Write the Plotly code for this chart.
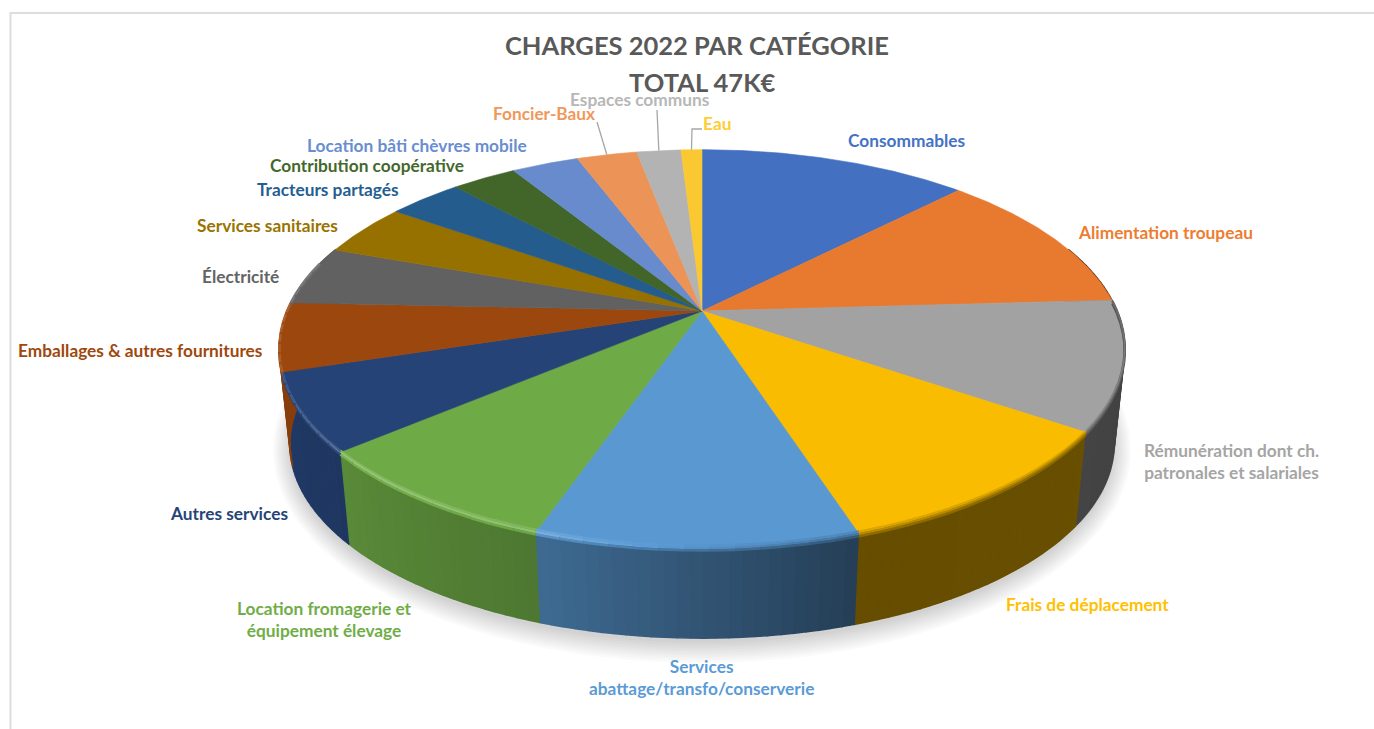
import math
import numpy as np
import plotly.graph_objects as go

# Charges 2022 in k€, clockwise from twelve o'clock
categories = [
    "Consommables", "Alimentation troupeau", "Rémunération dont ch.<br>patronales et salariales",
    "Frais de déplacement", "Services<br>abattage/transfo/conserverie",
    "Location fromagerie et<br>équipement élevage", "Autres services",
    "Emballages & autres fournitures", "Électricité", "Services sanitaires",
    "Tracteurs partagés", "Contribution coopérative", "Location bâti chèvres mobile",
    "Foncier-Baux", "Espaces communs", "Eau",
]
values = [5.8, 5.5, 4.9, 4.9, 4.85, 4.0, 2.95, 2.6, 2.25, 2.0, 1.6, 1.4, 1.45, 1.3, 0.95, 0.45]

colors = [
    "#4472C4", "#ED7D31", "#A5A5A5", "#FFC000", "#5B9BD5", "#70AD47", "#264478", "#9E480E",
    "#636363", "#997300", "#255E91", "#43682B", "#698ED0", "#F1975A", "#B7B7B7", "#FFCD33",
]

# Text centres on the pixel-scaled canvas
label_centres = [
    (906, 140.5), (1165, 232.5), (1231, 461), (1087, 604.5), (701, 677), (324, 619),
    (229, 513.5), (140, 350.5), (240, 276.5), (267, 225.5), (328, 189.5), (367, 165.5),
    (417, 145.5), (544, 113.5), (640, 99.5), (717, 123.5),
]

# Perspective disc: screen position of a rim point at a given clockwise angle
CX, TOP_Y, BOTTOM_Y = 702.0, 311.0, 407.0
RX, RY, TILT = 415.0, 192.0, 0.19
BOTTOM_SCALE = 0.975


def project(theta_deg, y0=TOP_Y, scale=1.0):
    t = np.radians(theta_deg)
    d = 1 + TILT * np.cos(t)
    return CX + scale * RX * np.sin(t) / d, y0 - scale * RY * np.cos(t) / d


def rgb(hex_color):
    return tuple(int(hex_color[i:i + 2], 16) for i in (1, 3, 5))


def shade(hex_color, f):
    r, g, b = rgb(hex_color)
    if f <= 1:
        return f"rgb({r * f:.0f},{g * f:.0f},{b * f:.0f})"
    m = min(f - 1, 1)
    return f"rgb({r + (255 - r) * m:.0f},{g + (255 - g) * m:.0f},{b + (255 - b) * m:.0f})"


# Light falls from the lower left: wall and bevel brightness by angle
WALL_ANGLES = [70, 125, 162, 199, 230, 252, 290]
WALL_SHADE = [0.40, 0.41, 0.40, 0.69, 0.80, 0.85, 0.88]
BEVEL_ANGLES = [70, 100, 125, 160, 182, 200, 225, 250, 290]
BEVEL_SHADE = [0.62, 0.60, 0.70, 0.72, 0.95, 1.22, 1.28, 1.15, 1.15]

total = sum(values)
edges = np.concatenate([[0], np.cumsum(values) / total * 360])

fig = go.Figure()


def add_poly(xs, ys, fill, line=None, width=0.6, name=None):
    fig.add_trace(go.Scatter(
        x=list(xs), y=list(ys), mode="lines", fill="toself", fillcolor=fill,
        line=dict(color=line or fill, width=width), hoverinfo="skip" if name is None else "text",
        text=name, showlegend=False,
    ))


# Soft drop shadow under the disc
ring = np.linspace(0, 360, 181)
for i in range(9):
    sx, sy = project(ring, BOTTOM_Y + 5 - i * 0.4, BOTTOM_SCALE + 0.005 * i)
    sy = sy + (np.cos(np.radians(ring)) < 0) * (-np.cos(np.radians(ring))) * i * 1.7
    add_poly(sx, sy, "rgba(0,0,0,0.018)", line="rgba(0,0,0,0)", width=0)

# Outer wall, split into thin facets for the gradient; the stroke hides facet seams
for i, color in enumerate(colors):
    a0, a1 = max(edges[i], 70), min(edges[i + 1], 290)
    if a1 <= a0:
        continue
    steps = max(1, math.ceil((a1 - a0) / 1.5))
    grid = np.linspace(a0, a1, steps + 1)
    for t0, t1 in zip(grid[:-1], grid[1:]):
        xt, yt = project(np.array([t0, t1]))
        xb, yb = project(np.array([t1, t0]), BOTTOM_Y, BOTTOM_SCALE)
        fill = shade(color, float(np.interp((t0 + t1) / 2, WALL_ANGLES, WALL_SHADE)))
        add_poly(np.r_[xt, xb], np.r_[yt, yb], fill, width=1.6)

# Top face wedges
for i, (name, color) in enumerate(zip(categories, colors)):
    arc = np.linspace(edges[i], edges[i + 1], max(3, int(edges[i + 1] - edges[i]) * 2))
    ax, ay = project(arc)
    add_poly(np.r_[CX, ax, CX], np.r_[TOP_Y, ay, TOP_Y], shade(color, 0.98),
             name=f"{name.replace('<br>', ' ')}: {values[i]} k€")

# Rounded bevel straddling the rim: wall side, crest, then fading into the top face
for i, color in enumerate(colors):
    a0, a1 = max(edges[i], 87), min(edges[i + 1], 285)
    if a1 <= a0:
        continue
    steps = max(1, math.ceil((a1 - a0) / 3))
    grid = np.linspace(a0, a1, steps + 1)
    for t0, t1 in zip(grid[:-1], grid[1:]):
        mid = (t0 + t1) / 2
        f = float(np.interp(mid, BEVEL_ANGLES, BEVEL_SHADE))
        wall = float(np.interp(mid, WALL_ANGLES, WALL_SHADE))
        xr, yr = project(np.array([t0, t1]))
        lift = max(0.0, -math.cos(math.radians(mid)))
        bands = (
            (2.5, 2.5, (f + wall) / 2),
            (0.0, 2.5, f),
            (-2.5 * lift, 2.0 * lift + 0.3, (f + 1) / 2),
        )
        for offset, width, level in bands:
            fig.add_trace(go.Scatter(
                x=xr, y=yr + offset, mode="lines", hoverinfo="skip", showlegend=False,
                line=dict(color=shade(color, level), width=width),
            ))

annotations = [
    dict(x=697, y=45, text="CHARGES 2022 PAR CATÉGORIE", font=dict(size=25.5, color="#595959")),
    dict(x=702, y=82, text="TOTAL 47K€", font=dict(size=25.5, color="#595959")),
]
for name, color, (lx, ly) in zip(categories, colors, label_centres):
    annotations.append(dict(x=lx, y=ly, text=name, font=dict(size=17.3, color=color)))
for a in annotations:
    a.update(xref="x", yref="y", showarrow=False, xanchor="center", yanchor="middle")
    a["font"].update(family="Lato", weight=700)

# Leader lines from the three smallest outside labels to their wedges
shapes = []
mids = (edges[:-1] + edges[1:]) / 2
for idx, elbow in ((13, [(597, 122)]), (14, [(657, 110)]), (15, [(702, 129), (692, 129)])):
    rx, ry = project(mids[idx])
    pts = elbow + [(float(rx), float(ry))]
    path = "M " + " L ".join(f"{px},{py}" for px, py in pts)
    shapes.append(dict(type="path", path=path, xref="x", yref="y",
                       line=dict(color="#A6A6A6", width=1.3)))

# Chart frame, running off the canvas to the right and below
shapes.append(dict(type="path", path="M 10.5,729 L 10.5,13 L 1374,13", xref="x", yref="y",
                   line=dict(color="#DDDDDD", width=2)))

fig.update_layout(
    width=1374, height=729, margin=dict(l=0, r=0, t=0, b=0),
    paper_bgcolor="white", plot_bgcolor="white",
    xaxis=dict(range=[0, 1374], visible=False, fixedrange=True),
    yaxis=dict(range=[729, 0], visible=False, fixedrange=True),
    annotations=annotations, shapes=shapes,
)

fig.write_html("out.html")
